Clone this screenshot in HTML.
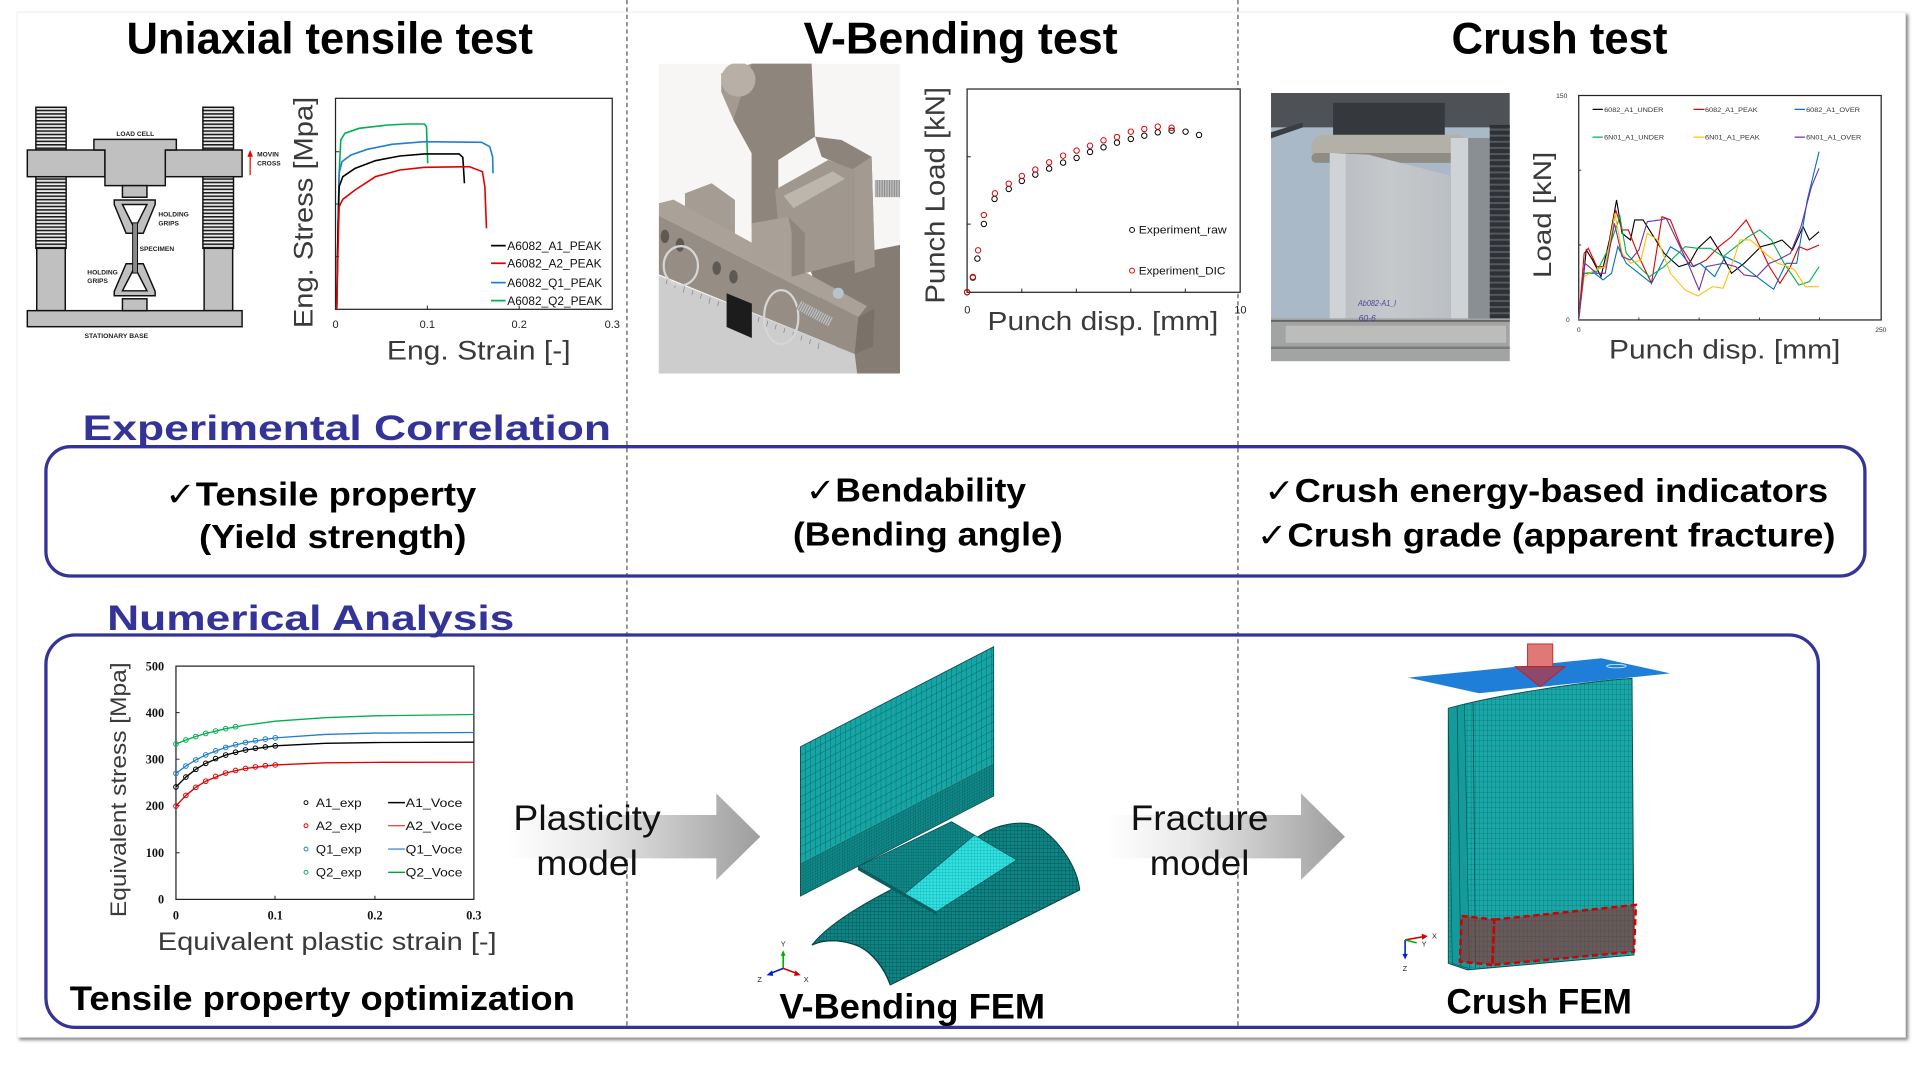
<!DOCTYPE html>
<html><head><meta charset="utf-8"><style>
html,body{margin:0;padding:0;background:#fff;width:1920px;height:1080px;overflow:hidden}
svg{display:block}
</style></head><body>
<svg width="1920" height="1080" viewBox="0 0 1568 882" preserveAspectRatio="none" xmlns="http://www.w3.org/2000/svg" font-family="'Liberation Sans','DejaVu Sans',sans-serif">
<defs>
<filter id="sh" x="-2%" y="-2%" width="104%" height="104%"><feDropShadow dx="2" dy="2" stdDeviation="1.2" flood-color="#7a7a7a" flood-opacity="0.9"/></filter>
<pattern id="thr" patternUnits="userSpaceOnUse" width="30" height="2.8"><rect width="30" height="2.8" fill="#ececec"/><rect width="30" height="1.3" fill="#1e1e1e"/></pattern>
<pattern id="mesh1" patternUnits="userSpaceOnUse" width="4.1" height="6.8"><rect width="4.1" height="6.8" fill="#15a5a5"/><path d="M0,0 V6.8 M0,0 H4.1" stroke="#0a4a4a" stroke-width="0.5"/></pattern>
<pattern id="mesh2" patternUnits="userSpaceOnUse" width="2" height="2.4"><rect width="2" height="2.4" fill="#0f8a8a"/><path d="M0,0 V2.4 M0,0 H2" stroke="#0a4545" stroke-width="0.35"/></pattern>
<pattern id="mesh3" patternUnits="userSpaceOnUse" width="3" height="3"><rect width="3" height="3" fill="#0e8585"/><path d="M0,0 V3 M0,0 H3" stroke="#073f3f" stroke-width="0.5"/></pattern>
<pattern id="mesh4" patternUnits="userSpaceOnUse" width="2.6" height="2.6"><rect width="2.6" height="2.6" fill="#30e2e2"/><path d="M0,0 V2.6 M0,0 H2.6" stroke="#0b7a7a" stroke-width="0.35"/></pattern>
<pattern id="mesh5" patternUnits="userSpaceOnUse" width="3.3" height="4.2"><rect width="3.3" height="4.2" fill="#19a8a8"/><path d="M0,0 V4.2 M0,0 H3.3" stroke="#0b5656" stroke-width="0.45"/></pattern>
<pattern id="bel" patternUnits="userSpaceOnUse" width="20" height="5"><rect width="20" height="5" fill="#2e3135"/><rect width="20" height="1.6" fill="#55595e"/></pattern>
<pattern id="rod" patternUnits="userSpaceOnUse" width="2" height="20"><rect width="2" height="20" fill="#bdbdbd"/><rect width="0.8" height="20" fill="#8a8a8a"/></pattern>
<linearGradient id="ag1" gradientUnits="userSpaceOnUse" x1="414" y1="0" x2="621" y2="0"><stop offset="0" stop-color="#ffffff"/><stop offset="0.35" stop-color="#e9e9e9"/><stop offset="1" stop-color="#9d9d9d"/></linearGradient>
<linearGradient id="ag2" gradientUnits="userSpaceOnUse" x1="904" y1="0" x2="1098" y2="0"><stop offset="0" stop-color="#ffffff"/><stop offset="0.35" stop-color="#e9e9e9"/><stop offset="1" stop-color="#9d9d9d"/></linearGradient>
<linearGradient id="alu" x1="0" y1="0" x2="1" y2="0"><stop offset="0" stop-color="#b8bbbf"/><stop offset="0.5" stop-color="#c6c9cc"/><stop offset="1" stop-color="#bcbfc3"/></linearGradient>
<clipPath id="cpv"><rect x="538" y="52" width="197" height="253"/></clipPath>
<clipPath id="cpc"><rect x="1038" y="76" width="195" height="219"/></clipPath>
</defs>

<!-- frame -->
<rect x="14" y="10" width="1542" height="837" fill="#fff" stroke="#f0f0f0" stroke-width="0.8" filter="url(#sh)"/>

<!-- dashed separators -->
<line x1="512" y1="0" x2="512" y2="839" stroke="#444" stroke-width="0.9" stroke-dasharray="3.5,2.5"/>
<line x1="1011" y1="0" x2="1011" y2="839" stroke="#444" stroke-width="0.9" stroke-dasharray="3.5,2.5"/>

<!-- titles -->
<text x="103.3" y="43.6" font-size="36" font-weight="bold" textLength="332" lengthAdjust="spacingAndGlyphs">Uniaxial tensile test</text>
<text x="656.2" y="43.6" font-size="36" font-weight="bold" textLength="256.6" lengthAdjust="spacingAndGlyphs">V-Bending test</text>
<text x="1185.4" y="43.6" font-size="36" font-weight="bold" textLength="176.4" lengthAdjust="spacingAndGlyphs">Crush test</text>

<!-- ===== Tensile machine ===== -->
<g stroke="#111" stroke-width="1.2">
<rect x="29.3" y="87.6" width="24.7" height="34.9" fill="url(#thr)"/>
<rect x="165.7" y="87.6" width="25" height="34.9" fill="url(#thr)"/>
<rect x="29.3" y="144.3" width="24.7" height="58.5" fill="url(#thr)"/>
<rect x="165.7" y="144.3" width="25" height="58.5" fill="url(#thr)"/>
<rect x="30" y="202.8" width="23.3" height="50.9" fill="#c0c0c0"/>
<rect x="166.7" y="202.8" width="23.3" height="50.9" fill="#c0c0c0"/>
<rect x="22.3" y="253.7" width="175.4" height="13.1" fill="#c0c0c0"/>
<rect x="22.3" y="122.5" width="63.4" height="21.8" fill="#c0c0c0"/>
<rect x="135" y="122.5" width="62.7" height="21.8" fill="#c0c0c0"/>
<path d="M76.7,113.8 H144 V122.5 H135 V151.6 H85.7 V122.5 H76.7 Z" fill="#c0c0c0"/>
<rect x="100" y="151.6" width="20" height="9.5" fill="#c0c0c0"/>
<polygon points="93.3,163.3 126.7,163.3 126.7,167 117,190.5 103,190.5 93.3,167" fill="#c0c0c0"/>
<polygon points="100,167 120,167 111.5,184 108.5,184" fill="#fff"/>
<polygon points="103,215.4 117,215.4 126.7,238 126.7,241.5 93.3,241.5 93.3,238" fill="#c0c0c0"/>
<polygon points="108.5,221 111.5,221 120,237.5 100,237.5" fill="#fff"/>
<rect x="100" y="244" width="20" height="9.7" fill="#c0c0c0"/>
<rect x="108.3" y="182" width="4" height="41" fill="#8a8a8a" stroke-width="0.8"/>
</g>
<line x1="204.3" y1="143" x2="204.3" y2="127" stroke="#e00" stroke-width="1"/>
<polygon points="204.3,122.5 202,128 206.6,128" fill="#e00"/>
<g font-size="5.4" font-weight="bold" fill="#222">
<text x="95" y="111">LOAD CELL</text>
<text x="210" y="128">MOVIN</text>
<text x="210" y="135">CROSS</text>
<text x="129.3" y="177">HOLDING</text>
<text x="129.3" y="184">GRIPS</text>
<text x="114" y="205">SPECIMEN</text>
<text x="71.3" y="224">HOLDING</text>
<text x="71.3" y="231">GRIPS</text>
<text x="69" y="276" textLength="52" lengthAdjust="spacingAndGlyphs">STATIONARY BASE</text>
</g>

<!-- ===== Chart 1 ===== -->
<rect x="274" y="80.3" width="226" height="172.3" fill="#fff" stroke="#222" stroke-width="1"/>
<path d="M274,123.9 h3 M274,166.6 h3 M274,209.6 h3 M349,252.6 v-3 M424,252.6 v-3" stroke="#222" stroke-width="0.8"/>
<g transform="scale(0.3333,0.2722)" fill="none" stroke-width="1.6">
<path vector-effect="non-scaling-stroke" d="M825,928 L828,700 L831,520 L835,420 L845,400 L880,385 L950,375 L1000,372 L1040,372 L1045,380 L1048,490" stroke="#00b050"/>
<path vector-effect="non-scaling-stroke" d="M825,928 L828,700 L831,520 L838,485 L860,465 L900,448 L960,433 L1040,425 L1180,427 L1200,440 L1207,470 L1208,520" stroke="#1f7fd0"/>
<path vector-effect="non-scaling-stroke" d="M825,928 L828,700 L831,560 L840,530 L870,505 L920,482 L980,468 L1040,462 L1125,462 L1134,472 L1138,550" stroke="#000"/>
<path vector-effect="non-scaling-stroke" d="M825,928 L828,760 L831,620 L840,598 L870,570 L920,530 L980,510 L1040,502 L1150,500 L1182,515 L1188,560 L1192,685" stroke="#e00000"/>
</g>
<g stroke-width="1.4">
<line x1="401" y1="200.6" x2="413" y2="200.6" stroke="#000"/>
<line x1="401" y1="215" x2="413" y2="215" stroke="#e00000"/>
<line x1="401" y1="230.8" x2="413" y2="230.8" stroke="#1f7fd0"/>
<line x1="401" y1="245.5" x2="413" y2="245.5" stroke="#00b050"/>
</g>
<g font-size="10" fill="#111">
<text x="414.3" y="204" textLength="77" lengthAdjust="spacingAndGlyphs">A6082_A1_PEAK</text>
<text x="414.3" y="218.5" textLength="77" lengthAdjust="spacingAndGlyphs">A6082_A2_PEAK</text>
<text x="414.3" y="234.3" textLength="77.5" lengthAdjust="spacingAndGlyphs">A6082_Q1_PEAK</text>
<text x="414.3" y="249" textLength="77.5" lengthAdjust="spacingAndGlyphs">A6082_Q2_PEAK</text>
</g>
<g font-size="9" fill="#222" text-anchor="middle">
<text x="274" y="268">0</text><text x="349" y="268">0.1</text><text x="424" y="268">0.2</text><text x="500" y="268">0.3</text>
</g>
<text transform="translate(255.4,173.5) rotate(-90)" text-anchor="middle" font-size="22" fill="#3a3a3a" textLength="189" lengthAdjust="spacingAndGlyphs">Eng. Stress [Mpa]</text>
<text x="316" y="293.4" font-size="22" fill="#3a3a3a" textLength="150" lengthAdjust="spacingAndGlyphs">Eng. Strain [-]</text>

<!-- ===== V-bending photo ===== -->
<g clip-path="url(#cpv)">
<rect x="538" y="52" width="197" height="253" fill="#f7f6f4"/>
<!-- right base -->
<polygon points="660,215 735,200 735,305 690,305" fill="#857d74"/>
<!-- ruler -->
<polygon points="535,224 698,289 700,305 535,305" fill="#cdcdcd"/>
<path d="M545,228 l-1,4 M552,231 l-1,4 M559,234 l-1,5 M566,237 l-1,4 M573,240 l-1,4 M580,243 l-1,5 M587,246 l-1,4 M620,259 l-1,4 M627,262 l-1,5 M634,265 l-1,4 M641,268 l-1,4 M648,271 l-1,5 M655,274 l-1,4 M662,277 l-1,4 M669,280 l-1,5" stroke="#888" stroke-width="0.6"/>
<!-- punch -->
<polygon points="589,60 614,52 614,125 599,98 589,75" fill="#a39b91"/>
<polygon points="613.8,51.7 662.8,51.7 665.6,111.6 635.6,130.7 635.6,185 613.8,185 613.8,125.2 598.9,98" fill="#8e867c"/>
<circle cx="603" cy="65" r="14" fill="#b8b0a6"/>
<!-- right bracket -->
<polygon points="665.6,111.6 687.3,114.3 711.8,128 714.5,217.8 698.2,223.2 695.5,138.8 671,128" fill="#8d857b"/>
<polygon points="695.5,138.8 711.8,128 714.5,217.8 698.2,223.2" fill="#a39b91"/>
<rect x="714.5" y="147" width="22" height="14" fill="url(#rod)"/>
<!-- roller -->
<polygon points="633,155 676.4,130.7 698.2,138.8 698.2,212.3 657.4,223.2 638.4,217.8" fill="#a0988e"/>
<polygon points="640,160 680,140 690,146 648,170" fill="#bdb6ad"/>
<!-- left block -->
<polygon points="559.4,157.9 581.2,149.7 600.2,163.3 600.2,190.5 589.3,190.5 559.4,174.2" fill="#a59d93"/>
<!-- bar -->
<polygon points="538,166 550,163 708,250 701,259 538,176" fill="#aaa298"/>
<polygon points="538,176 701,259 698,289 538,224" fill="#968e84"/>
<polygon points="701,259 714,252 713,283 698,289" fill="#7a7269"/>
<!-- front block -->
<polygon points="613.8,182.4 643.8,177 657.4,190.5 657.4,223.2 646.5,226 613.8,212.3" fill="#a9a197"/>
<polygon points="643.8,177 657.4,190.5 657.4,223.2 646.5,226 646.5,190" fill="#8f877d"/>
<!-- slot -->
<polygon points="593.4,239.5 614,248 614,276 593.4,267" fill="#1c1c1c"/>
<!-- holes -->
<ellipse cx="543" cy="193" rx="3.5" ry="5.5" fill="#5e5952"/>
<ellipse cx="555.3" cy="200" rx="3.5" ry="5.5" fill="#5e5952"/>
<ellipse cx="585.3" cy="219" rx="3.5" ry="5.5" fill="#5e5952"/>
<ellipse cx="599" cy="226" rx="3.5" ry="5.5" fill="#5e5952"/>
<!-- wire loops -->
<ellipse cx="556" cy="217" rx="14" ry="16" fill="none" stroke="#d6d6d6" stroke-width="1.8"/>
<ellipse cx="638" cy="259" rx="14" ry="22" fill="none" stroke="#d6d6d6" stroke-width="1.8"/>
<rect x="650" y="252" width="30" height="8" fill="url(#rod)" transform="rotate(28 665 256)"/>
<circle cx="684.6" cy="239.5" r="4.5" fill="#b8c4cc"/>
</g>

<!-- ===== Chart 2 ===== -->
<rect x="789.8" y="72.7" width="223" height="166" fill="#fff" stroke="#222" stroke-width="1"/>
<path d="M789.8,128 h3 M789.8,183 h3 M834.5,238.7 v-3 M879,238.7 v-3 M923.5,238.7 v-3 M968,238.7 v-3" stroke="#222" stroke-width="0.8"/>
<g fill="none" stroke="#000" stroke-width="0.8">
<circle cx="789.8" cy="238.7" r="2.2"/><circle cx="794.5" cy="226.7" r="2.2"/><circle cx="798.2" cy="211.2" r="2.2"/><circle cx="803.5" cy="182.9" r="2.2"/><circle cx="812.2" cy="162.5" r="2.2"/><circle cx="823.8" cy="154.3" r="2.2"/><circle cx="834.5" cy="147.8" r="2.2"/><circle cx="845.5" cy="142.6" r="2.2"/><circle cx="856.8" cy="137.7" r="2.2"/><circle cx="868.2" cy="132.8" r="2.2"/><circle cx="879.2" cy="129" r="2.2"/><circle cx="890.2" cy="124.1" r="2.2"/><circle cx="901.2" cy="120.3" r="2.2"/><circle cx="912.2" cy="116.5" r="2.2"/><circle cx="923.5" cy="113.5" r="2.2"/><circle cx="934.5" cy="110.8" r="2.2"/><circle cx="945.5" cy="108.1" r="2.2"/><circle cx="956.8" cy="106.7" r="2.2"/><circle cx="968.2" cy="107.5" r="2.2"/><circle cx="979.2" cy="110.2" r="2.2"/>
</g>
<g fill="none" stroke="#e00000" stroke-width="0.8">
<circle cx="789.8" cy="238.5" r="2.2"/><circle cx="794.5" cy="226.2" r="2.2"/><circle cx="798.8" cy="204.4" r="2.2"/><circle cx="803.5" cy="175.6" r="2.2"/><circle cx="812.5" cy="157.9" r="2.2"/><circle cx="823.8" cy="150" r="2.2"/><circle cx="834.5" cy="143.7" r="2.2"/><circle cx="845.5" cy="138.5" r="2.2"/><circle cx="856.8" cy="132.6" r="2.2"/><circle cx="868.2" cy="127.1" r="2.2"/><circle cx="879.2" cy="123" r="2.2"/><circle cx="890.2" cy="119" r="2.2"/><circle cx="901.2" cy="114.6" r="2.2"/><circle cx="912.2" cy="111.9" r="2.2"/><circle cx="923.5" cy="107.5" r="2.2"/><circle cx="934.5" cy="105.3" r="2.2"/><circle cx="945.5" cy="103.4" r="2.2"/><circle cx="956.8" cy="104.3" r="2.2"/>
</g>
<circle cx="924.5" cy="187.8" r="2" fill="none" stroke="#000" stroke-width="0.8"/>
<circle cx="924.5" cy="221" r="2" fill="none" stroke="#e00000" stroke-width="0.8"/>
<text x="930" y="190.8" font-size="9" fill="#111" textLength="71.8" lengthAdjust="spacingAndGlyphs">Experiment_raw</text>
<text x="930" y="224" font-size="9" fill="#111" textLength="70.8" lengthAdjust="spacingAndGlyphs">Experiment_DIC</text>
<text x="790" y="256" font-size="9" fill="#222" text-anchor="middle">0</text>
<text x="1013" y="256" font-size="9" fill="#222" text-anchor="middle">10</text>
<text transform="translate(771.4,159.5) rotate(-90)" text-anchor="middle" font-size="22.5" fill="#3a3a3a" textLength="177" lengthAdjust="spacingAndGlyphs">Punch Load [kN]</text>
<text x="806.5" y="269.3" font-size="21" fill="#3a3a3a" textLength="188.5" lengthAdjust="spacingAndGlyphs">Punch disp. [mm]</text>

<!-- ===== Crush photo ===== -->
<g clip-path="url(#cpc)">
<rect x="1038" y="76" width="195" height="219" fill="#a9b9c7"/>
<rect x="1038" y="74" width="195" height="30" fill="#4e5257"/>
<polygon points="1038,108 1064,100 1064,104 1038,113" fill="#3a3d42"/>
<rect x="1088.7" y="84" width="91.2" height="28" fill="#35383c"/>
<rect x="1071" y="110" width="128" height="23" rx="10" fill="#b3b0a8"/>
<rect x="1071" y="125" width="128" height="8" rx="4" fill="#8f8c86"/>
<rect x="1184.8" y="112.7" width="14.2" height="150" fill="#cfd3d6"/>
<rect x="1199" y="112.7" width="17.6" height="150" fill="#8a8f94"/>
<rect x="1216.6" y="102" width="19" height="160" fill="url(#bel)"/>
<polygon points="1086,125 1117.3,126.3 1184,143.2 1184,280.1 1086,280.1" fill="url(#alu)"/>
<polygon points="1086,125 1099,125.5 1099,280.1 1086,280.1" fill="#d0d3d6"/>
<rect x="1038" y="260" width="195" height="35" fill="#a2a3a3"/>
<rect x="1038" y="261.5" width="195" height="1.2" fill="#555"/>
<rect x="1050" y="266" width="180" height="14" fill="#bcbcbb"/>
<rect x="1038" y="283" width="195" height="2" fill="#7a7b7c"/>
<text x="1109" y="250" font-size="7" font-style="italic" fill="#5040a0" textLength="31" lengthAdjust="spacingAndGlyphs">Ab082-A1_l</text>
<text x="1109.5" y="262" font-size="7" font-style="italic" fill="#5040a0">60-6</text>
</g>

<!-- ===== Chart 3 ===== -->
<rect x="1289.3" y="78" width="247" height="183.3" fill="#fff" stroke="#222" stroke-width="1"/>
<path d="M1289.3,139 h2 M1289.3,200 h2 M1338.4,261.3 v-2 M1387.6,261.3 v-2 M1437,261.3 v-2 M1486,261.3 v-2" stroke="#222" stroke-width="0.7"/>
<g transform="translate(1029,0) scale(0.3438,0.2722)" fill="none">
<path vector-effect="non-scaling-stroke" stroke-width="1.1" stroke="#000" d="M757,960 L775,750 L790,780 L810,830 L830,720 L847,600 L860,700 L880,720 L890,660 L910,660 L930,700 L960,760 L995,800 L1020,790 L1040,745 L1070,710 L1095,760 L1120,820 L1150,790 L1190,740 L1220,730 L1240,720 L1265,750 L1290,680 L1305,720 L1328,695"/>
<path vector-effect="non-scaling-stroke" stroke-width="1.1" stroke="#e00000" d="M757,960 L770,760 L780,745 L800,800 L820,800 L845,630 L860,690 L875,690 L900,770 L930,850 L955,650 L975,660 L1000,740 L1030,800 L1060,780 L1090,740 L1120,710 L1155,660 L1180,720 L1210,800 L1235,850 L1260,800 L1280,740 L1300,750 L1328,735"/>
<path vector-effect="non-scaling-stroke" stroke-width="1.1" stroke="#0070c0" d="M757,960 L770,820 L795,820 L815,840 L835,820 L850,740 L870,790 L900,820 L930,850 L975,740 L1000,760 L1025,800 L1045,790 L1080,830 L1105,770 L1140,790 L1190,840 L1220,868 L1250,790 L1275,790 L1300,600 L1328,455"/>
<path vector-effect="non-scaling-stroke" stroke-width="1.1" stroke="#00b050" d="M757,960 L770,820 L800,815 L830,740 L855,650 L870,760 L900,800 L925,830 L960,800 L1010,740 L1040,745 L1070,745 L1100,770 L1130,740 L1160,710 L1187,690 L1215,720 L1245,790 L1280,855 L1305,845 L1328,800"/>
<path vector-effect="non-scaling-stroke" stroke-width="1.1" stroke="#ffc000" d="M757,960 L770,830 L795,810 L820,800 L843,640 L860,760 L880,790 L905,780 L920,700 L945,720 L975,820 L1010,870 L1040,888 L1075,860 L1100,865 L1125,780 L1140,720 L1165,720 L1200,760 L1230,790 L1255,800 L1270,810 L1295,860 L1310,860 L1328,860"/>
<path vector-effect="non-scaling-stroke" stroke-width="1.1" stroke="#7030a0" d="M757,960 L772,790 L800,820 L820,820 L842,670 L860,770 L880,780 L900,750 L920,665 L950,660 L965,655 L990,720 L1020,800 L1043,870 L1060,800 L1080,795 L1100,790 L1130,800 L1150,825 L1180,830 L1210,790 L1230,780 L1260,760 L1285,680 L1310,560 L1328,505"/>
</g>
<g stroke-width="1">
<line x1="1300.6" y1="89.3" x2="1309" y2="89.3" stroke="#000"/>
<line x1="1383" y1="89.3" x2="1392" y2="89.3" stroke="#e00000"/>
<line x1="1465.6" y1="89.3" x2="1474" y2="89.3" stroke="#0070c0"/>
<line x1="1300.6" y1="112" x2="1309" y2="112" stroke="#00b050"/>
<line x1="1383" y1="112" x2="1392" y2="112" stroke="#ffc000"/>
<line x1="1465.6" y1="112" x2="1474" y2="112" stroke="#7030a0"/>
</g>
<g font-size="5.5" fill="#333">
<text x="1310" y="91.3" textLength="48.4" lengthAdjust="spacingAndGlyphs">6082_A1_UNDER</text>
<text x="1392.4" y="91.3" textLength="43" lengthAdjust="spacingAndGlyphs">6082_A1_PEAK</text>
<text x="1475" y="91.3" textLength="44" lengthAdjust="spacingAndGlyphs">6082_A1_OVER</text>
<text x="1310" y="114" textLength="49" lengthAdjust="spacingAndGlyphs">6N01_A1_UNDER</text>
<text x="1392.4" y="114" textLength="44.7" lengthAdjust="spacingAndGlyphs">6N01_A1_PEAK</text>
<text x="1475" y="114" textLength="45" lengthAdjust="spacingAndGlyphs">6N01_A1_OVER</text>
<text x="1280" y="80" text-anchor="end">150</text>
<text x="1282" y="263" text-anchor="end">0</text>
<text x="1289.3" y="271" text-anchor="middle">0</text>
<text x="1536" y="271" text-anchor="middle">250</text>
</g>
<text transform="translate(1266.8,175.5) rotate(-90)" text-anchor="middle" font-size="20.5" fill="#3a3a3a" textLength="103" lengthAdjust="spacingAndGlyphs">Load [kN]</text>
<text x="1314" y="292.6" font-size="22" fill="#3a3a3a" textLength="189" lengthAdjust="spacingAndGlyphs">Punch disp. [mm]</text>

<!-- ===== Experimental Correlation ===== -->
<rect x="37.5" y="364.8" width="1485.5" height="105.6" rx="20" ry="20" fill="none" stroke="#333399" stroke-width="2.7"/>
<text x="67.5" y="359.3" font-size="28.5" font-weight="bold" fill="#333399" textLength="431.5" lengthAdjust="spacingAndGlyphs">Experimental Correlation</text>
<g font-size="27" font-weight="bold" fill="#000">
<text x="135" y="413" textLength="254" lengthAdjust="spacingAndGlyphs">✓Tensile property</text>
<text x="162.5" y="447.5" textLength="218.5" lengthAdjust="spacingAndGlyphs">(Yield strength)</text>
<text x="658" y="409.5" textLength="180" lengthAdjust="spacingAndGlyphs">✓Bendability</text>
<text x="647.5" y="445.5" textLength="220.5" lengthAdjust="spacingAndGlyphs">(Bending angle)</text>
<text x="1032.5" y="410" textLength="460.5" lengthAdjust="spacingAndGlyphs">✓Crush energy-based indicators</text>
<text x="1026.5" y="446.5" textLength="472.5" lengthAdjust="spacingAndGlyphs">✓Crush grade (apparent fracture)</text>
</g>

<!-- ===== Numerical Analysis ===== -->
<rect x="37.5" y="518.6" width="1447.5" height="320.4" rx="24" ry="24" fill="none" stroke="#333399" stroke-width="2.7"/>
<text x="87.5" y="514.5" font-size="28.5" font-weight="bold" fill="#333399" textLength="332.5" lengthAdjust="spacingAndGlyphs">Numerical Analysis</text>

<!-- Chart 4 -->
<rect x="143.7" y="544" width="243.3" height="190.5" fill="#fff" stroke="#222" stroke-width="1"/>
<path d="M143.7,582 h3 M143.7,620 h3 M143.7,658 h3 M143.7,696.4 h3 M224.6,734.5 v-3 M306.2,734.5 v-3" stroke="#222" stroke-width="0.8"/>
<g fill="none" stroke-width="1.1">
<polyline stroke="#00b050" points="143.7,607.6 151.8,604.3 159.9,601.5 168,599 184.3,595.1 200.5,592.2 224.8,589 265.4,586.1 305.9,584.6 387,583.5"/>
<polyline stroke="#1f7fd0" points="143.7,631.6 151.8,625.6 159.9,620.6 168,616.5 184.3,610.4 200.5,606.4 224.8,602.6 265.4,599.8 305.9,598.7 387,598.2"/>
<polyline stroke="#000" points="143.7,642.7 151.8,634.6 159.9,628.3 168,623.4 184.3,616.6 200.5,612.5 224.8,609.1 265.4,607 305.9,606.4 387,606.1"/>
<polyline stroke="#e00000" points="143.7,658.3 151.8,649.6 159.9,643 168,638 184.3,631.3 200.5,627.6 224.8,624.7 265.4,623 305.9,622.6 387,622.5"/>
</g>
<g fill="none" stroke-width="0.8">
<g stroke="#00b050"><circle cx="143.7" cy="607.6" r="1.9"/><circle cx="151.8" cy="604.3" r="1.9"/><circle cx="159.9" cy="601.5" r="1.9"/><circle cx="168" cy="599" r="1.9"/><circle cx="176.1" cy="597" r="1.9"/><circle cx="184.3" cy="595.1" r="1.9"/><circle cx="192.4" cy="593.5" r="1.9"/></g>
<g stroke="#1f7fd0"><circle cx="143.7" cy="631.6" r="1.9"/><circle cx="151.8" cy="625.6" r="1.9"/><circle cx="159.9" cy="620.6" r="1.9"/><circle cx="168" cy="616.5" r="1.9"/><circle cx="176.1" cy="613.2" r="1.9"/><circle cx="184.3" cy="610.4" r="1.9"/><circle cx="192.4" cy="608.2" r="1.9"/><circle cx="200.5" cy="606.4" r="1.9"/><circle cx="208.6" cy="604.9" r="1.9"/><circle cx="216.7" cy="603.6" r="1.9"/><circle cx="224.8" cy="602.6" r="1.9"/></g>
<g stroke="#000"><circle cx="143.7" cy="642.7" r="1.9"/><circle cx="151.8" cy="634.6" r="1.9"/><circle cx="159.9" cy="628.3" r="1.9"/><circle cx="168" cy="623.4" r="1.9"/><circle cx="176.1" cy="619.5" r="1.9"/><circle cx="184.3" cy="616.6" r="1.9"/><circle cx="192.4" cy="614.3" r="1.9"/><circle cx="200.5" cy="612.5" r="1.9"/><circle cx="208.6" cy="611.1" r="1.9"/><circle cx="216.7" cy="610" r="1.9"/><circle cx="224.8" cy="609.1" r="1.9"/></g>
<g stroke="#e00000"><circle cx="143.7" cy="658.3" r="1.9"/><circle cx="151.8" cy="649.6" r="1.9"/><circle cx="159.9" cy="643" r="1.9"/><circle cx="168" cy="638" r="1.9"/><circle cx="176.1" cy="634.1" r="1.9"/><circle cx="184.3" cy="631.3" r="1.9"/><circle cx="192.4" cy="629.2" r="1.9"/><circle cx="200.5" cy="627.6" r="1.9"/><circle cx="208.6" cy="626.3" r="1.9"/><circle cx="216.7" cy="625.3" r="1.9"/><circle cx="224.8" cy="624.7" r="1.9"/></g>
</g>
<g font-family="'Liberation Serif',serif" font-weight="bold" font-size="10" fill="#111">
<text x="134" y="547.5" text-anchor="end">500</text>
<text x="134" y="585.5" text-anchor="end">400</text>
<text x="134" y="623.5" text-anchor="end">300</text>
<text x="134" y="661.5" text-anchor="end">200</text>
<text x="134" y="700" text-anchor="end">100</text>
<text x="134" y="738" text-anchor="end">0</text>
<text x="143.7" y="751" text-anchor="middle">0</text>
<text x="224.8" y="751" text-anchor="middle">0.1</text>
<text x="306.2" y="751" text-anchor="middle">0.2</text>
<text x="387" y="751" text-anchor="middle">0.3</text>
</g>
<g fill="none" stroke-width="0.8">
<circle cx="249.9" cy="655.5" r="1.6" stroke="#000"/>
<circle cx="249.9" cy="674.3" r="1.6" stroke="#e00000"/>
<circle cx="249.9" cy="693.4" r="1.6" stroke="#1f7fd0"/>
<circle cx="249.9" cy="712.4" r="1.6" stroke="#00b050"/>
</g>
<g stroke-width="1.2">
<line x1="317" y1="655.5" x2="330.7" y2="655.5" stroke="#000"/>
<line x1="317" y1="674.3" x2="330.7" y2="674.3" stroke="#e05050"/>
<line x1="317" y1="693.4" x2="330.7" y2="693.4" stroke="#4a90d0"/>
<line x1="317" y1="712.4" x2="330.7" y2="712.4" stroke="#00a040"/>
</g>
<g font-size="10" fill="#111">
<text x="258" y="659" textLength="37.4" lengthAdjust="spacingAndGlyphs">A1_exp</text>
<text x="258" y="677.8" textLength="37.4" lengthAdjust="spacingAndGlyphs">A2_exp</text>
<text x="258" y="696.9" textLength="37.4" lengthAdjust="spacingAndGlyphs">Q1_exp</text>
<text x="258" y="715.9" textLength="37.4" lengthAdjust="spacingAndGlyphs">Q2_exp</text>
<text x="331.3" y="659" textLength="46.3" lengthAdjust="spacingAndGlyphs">A1_Voce</text>
<text x="331.3" y="677.8" textLength="46.3" lengthAdjust="spacingAndGlyphs">A2_Voce</text>
<text x="331.3" y="696.9" textLength="46.3" lengthAdjust="spacingAndGlyphs">Q1_Voce</text>
<text x="331.3" y="715.9" textLength="46.3" lengthAdjust="spacingAndGlyphs">Q2_Voce</text>
</g>
<text transform="translate(102.8,645) rotate(-90)" text-anchor="middle" font-size="18" fill="#3a3a3a" textLength="208" lengthAdjust="spacingAndGlyphs">Equivalent stress [Mpa]</text>
<text x="128.8" y="775.7" font-size="20.5" fill="#3a3a3a" textLength="276.8" lengthAdjust="spacingAndGlyphs">Equivalent plastic strain [-]</text>
<text x="57" y="825" font-size="28" font-weight="bold" fill="#000" textLength="412.5" lengthAdjust="spacingAndGlyphs">Tensile property optimization</text>

<!-- arrows -->
<path d="M414,665.6 L585,665.6 L585,647.9 L620.9,683.3 L585,718.6 L585,701 L414,701 Z" fill="url(#ag1)"/>
<path d="M904.6,665.6 L1062.5,665.6 L1062.5,647.9 L1098.4,683.3 L1062.5,718.6 L1062.5,701 L904.6,701 Z" fill="url(#ag2)"/>
<g font-size="29" fill="#111">
<text x="419.3" y="677.8" textLength="120.3" lengthAdjust="spacingAndGlyphs">Plasticity</text>
<text x="438" y="714.6" textLength="83" lengthAdjust="spacingAndGlyphs">model</text>
<text x="923.4" y="677.8" textLength="112.5" lengthAdjust="spacingAndGlyphs">Fracture</text>
<text x="939" y="714.6" textLength="81.3" lengthAdjust="spacingAndGlyphs">model</text>
</g>

<!-- ===== V-Bending FEM ===== -->
<path d="M663.1,771.7 C680,750 720,730 760,710 L799,683.3 C815,672 840,668 852,677.8 C868,690 880,710 881.8,726.8 L727.1,804.4 C722,790 712,778 702,773 C690,768 675,766 663.1,771.7 Z" fill="url(#mesh3)" stroke="#064040" stroke-width="0.8"/>
<path d="M663.1,771.7 C675,766 690,768 702,773 C712,778 722,790 727.1,804.4" fill="none" stroke="#064040" stroke-width="1"/>
<g transform="translate(653.7,609.8) skewY(-27.37)">
<rect width="157.8" height="95" fill="url(#mesh1)"/>
<rect y="95" width="157.8" height="27" fill="url(#mesh2)"/>
<rect width="157.8" height="122" fill="none" stroke="#0a4a4a" stroke-width="0.7"/>
</g>
<polygon points="700.6,707.8 777.1,671 795.7,682 739,729.8" fill="url(#mesh2)" stroke="#0a4a4a" stroke-width="0.6"/>
<polygon points="795.7,682 830.3,702.3 764.7,744.5 739,729.8" fill="url(#mesh4)" stroke="#0a5a5a" stroke-width="0.6"/>
<polygon points="700.6,707.8 739,729.8 764.7,744.5 764.7,747 739,732.5 700.6,710.5" fill="#0a6060"/>
<g stroke-width="1.3">
<line x1="639.6" y1="790.8" x2="639.6" y2="779" stroke="#00b000"/>
<line x1="639.6" y1="790.8" x2="629" y2="795" stroke="#0020d0"/>
<line x1="639.6" y1="790.8" x2="651" y2="795" stroke="#d00000"/>
</g>
<polygon points="639.6,776 637.6,780.5 641.6,780.5" fill="#00b000"/>
<polygon points="626,796.5 630.5,792.5 631.5,797" fill="#0020d0"/>
<polygon points="654,796.5 648.5,797 649.5,792.5" fill="#d00000"/>
<g font-size="6" fill="#222">
<text x="637.6" y="773">Y</text><text x="618.5" y="802">Z</text><text x="656.4" y="802">X</text>
</g>
<text x="636.5" y="831.6" font-size="28.5" font-weight="bold" fill="#000" textLength="217" lengthAdjust="spacingAndGlyphs">V-Bending FEM</text>

<!-- ===== Crush FEM ===== -->
<path d="M1182.8,578.5 C1220,568 1290,557 1332.8,554 L1334.4,779.9 L1198.4,792.1 L1182.8,786.7 Z" fill="url(#mesh5)" stroke="#0a5050" stroke-width="0.8"/>
<path d="M1182.8,578.5 L1196,575 L1200,791 L1186,787 Z" fill="#139a9a" stroke="#0a5050" stroke-width="0.5"/>
<path d="M1190,577 L1193,789 M1203,574 L1205,791" stroke="#0a5050" stroke-width="0.6"/>
<polygon points="1193.7,748 1220.3,751 1218.8,788 1192.2,785.3" fill="rgba(150,40,40,0.6)" stroke="#d00000" stroke-width="2" stroke-dasharray="5,3"/>
<polygon points="1220.3,751 1336,739 1334.4,777.2 1218.8,788" fill="rgba(150,40,40,0.6)" stroke="#d00000" stroke-width="2" stroke-dasharray="5,3"/>
<polygon points="1150,553.4 1307.8,537.6 1364,549.9 1207.8,566.2" fill="#1f7fd8"/>
<ellipse cx="1320" cy="544" rx="8" ry="1.4" fill="none" stroke="#bfe6ff" stroke-width="0.7"/>
<rect x="1247.5" y="525.9" width="20.6" height="18.5" fill="#e07878" stroke="#c03030" stroke-width="0.8"/>
<polygon points="1237.5,544.4 1278.1,544.4 1257.8,560.8" fill="rgba(190,50,60,0.7)" stroke="#c02020" stroke-width="0.8"/>
<g stroke-width="1.3">
<line x1="1147.5" y1="767.6" x2="1147.5" y2="780" stroke="#0020d0"/>
<line x1="1147.5" y1="767.6" x2="1162" y2="765" stroke="#d00000"/>
<line x1="1147.5" y1="767.6" x2="1157" y2="770" stroke="#00b000"/>
</g>
<polygon points="1147.5,783.5 1145.3,779 1149.7,779" fill="#0020d0"/>
<polygon points="1166,764.5 1161,762.5 1161.5,767.5" fill="#d00000"/>
<g font-size="6" fill="#222">
<text x="1169.5" y="766.5">X</text><text x="1161" y="773">Y</text><text x="1145.5" y="793">Z</text>
</g>
<text x="1181.2" y="827.5" font-size="28.5" font-weight="bold" fill="#000" textLength="151.6" lengthAdjust="spacingAndGlyphs">Crush FEM</text>
</svg>
</body></html>
